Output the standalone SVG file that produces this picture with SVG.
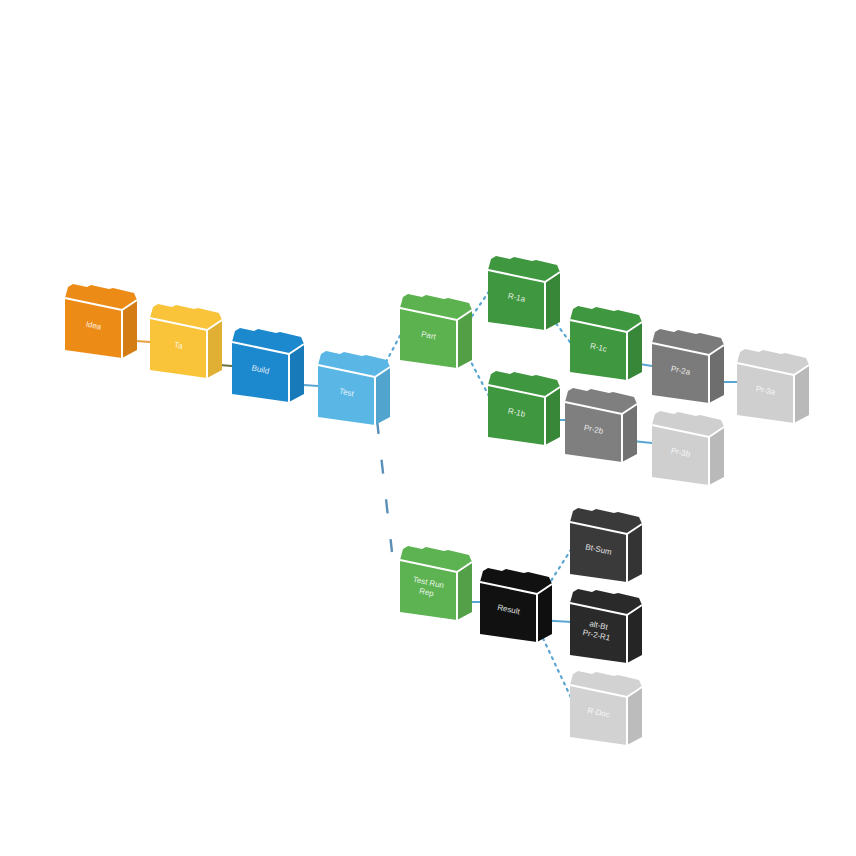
<svg xmlns="http://www.w3.org/2000/svg" xmlns:xlink="http://www.w3.org/1999/xlink" width="856" height="856" viewBox="0 0 856 856">
<defs>
<style>
.lbl{font-family:"Liberation Sans",Arial,sans-serif;font-size:8px;fill:#ffffff;text-anchor:middle;opacity:0.85}
.con{fill:none;stroke:#5aa6d2;stroke-width:2.2;stroke-dasharray:2 5;stroke-linecap:round}
.conS{fill:none;stroke:#5aa6d2;stroke-width:2}
.edge{fill:none;stroke:#ffffff;stroke-width:2;stroke-linejoin:round}
</style>
<g id="box">
<path d="M0,0 L3,-11 L8,-14 L22,-11 L26,-13 L44,-9 L48,-10 L69,-5 L72,2 L57,12 Z" fill="currentColor"/>
<path d="M0,0 L57,12 L57,60 L0,52 Z" fill="currentColor"/>
<path d="M57,12 L72,2 L72,52 L57,60 Z" fill="currentColor"/>
<path d="M57,12 L72,2 L72,52 L57,60 Z" fill="#000000" opacity="0.1"/>
<polyline class="edge" points="0,0 57,12 72,2"/>
<line class="edge" x1="57" y1="12" x2="57" y2="60"/>
</g>
</defs>
<rect width="856" height="856" fill="#ffffff"/>
<g id="connectors">
<line class="conS" x1="122" y1="340" x2="150" y2="342" style="stroke:#e8a040"/>
<line class="conS" x1="207" y1="364" x2="232" y2="366" style="stroke:#6a7040"/>
<line class="conS" x1="289" y1="384" x2="318" y2="386"/>
<path class="con" d="M386,362 L402,332"/>
<path d="M377,420 L392,552" fill="none" stroke="#5a8fb8" stroke-width="2.4" stroke-dasharray="14 26"/>
<path class="con" d="M468,322 L490,290"/>
<path class="con" d="M462,345 L490,398"/>
<path class="con" d="M552,318 L570,342"/>
<line class="conS" x1="627" y1="362" x2="652" y2="366"/>
<line class="conS" x1="709" y1="382" x2="737" y2="382"/>
<line class="conS" x1="545" y1="420" x2="566" y2="420"/>
<line class="conS" x1="622" y1="440" x2="652" y2="443"/>
<line class="conS" x1="457" y1="602" x2="480" y2="602"/>
<path class="con" d="M540,598 L572,548"/>
<line class="conS" x1="537" y1="620" x2="572" y2="622"/>
<path class="con" d="M540,632 L574,704"/>
</g>
<g id="n1"><use xlink:href="#box" x="65" y="298" style="color:#ec8c17"/><text class="lbl" transform="translate(93,328) rotate(12)">Idea</text></g>
<g id="n2"><use xlink:href="#box" x="150" y="318" style="color:#f9c43a"/><text class="lbl" transform="translate(178,348) rotate(12)">Ta</text></g>
<g id="n3"><use xlink:href="#box" x="232" y="342" style="color:#1c88ce"/><text class="lbl" transform="translate(260,372) rotate(12)">Build</text></g>
<g id="n4"><use xlink:href="#box" x="318" y="365" style="color:#5ab7e5"/><text class="lbl" transform="translate(346,395) rotate(12)">Test</text></g>
<g id="n5"><use xlink:href="#box" x="400" y="308" style="color:#5cb24f"/><text class="lbl" transform="translate(428,338) rotate(12)">Part</text></g>
<g id="n6"><use xlink:href="#box" x="488" y="270" style="color:#3f973f"/><text class="lbl" transform="translate(516,300) rotate(12)">R-1a</text></g>
<g id="n7"><use xlink:href="#box" x="488" y="385" style="color:#3f973f"/><text class="lbl" transform="translate(516,415) rotate(12)">R-1b</text></g>
<g id="n8"><use xlink:href="#box" x="570" y="320" style="color:#3f973f"/><text class="lbl" transform="translate(598,350) rotate(12)">R-1c</text></g>
<g id="n9"><use xlink:href="#box" x="652" y="343" style="color:#7b7b7b"/><text class="lbl" transform="translate(680,373) rotate(12)">Pr-2a</text></g>
<g id="n10"><use xlink:href="#box" x="737" y="363" style="color:#cfcfcf"/><text class="lbl" transform="translate(765,393) rotate(12)">Pr-3a</text></g>
<g id="n11"><use xlink:href="#box" x="565" y="402" style="color:#7f7f7f"/><text class="lbl" transform="translate(593,432) rotate(12)">Pr-2b</text></g>
<g id="n12"><use xlink:href="#box" x="652" y="425" style="color:#cfcfcf"/><text class="lbl" transform="translate(680,455) rotate(12)">Pr-3b</text></g>
<g id="n13"><use xlink:href="#box" x="400" y="560" style="color:#5db352"/><text class="lbl" transform="translate(428,585) rotate(12)"><tspan x="0" dy="0">Test Run</tspan><tspan x="0" dy="10">Rep</tspan></text></g>
<g id="n14"><use xlink:href="#box" x="480" y="582" style="color:#111111"/><text class="lbl" transform="translate(508,612) rotate(12)">Result</text></g>
<g id="n15"><use xlink:href="#box" x="570" y="522" style="color:#3a3a3a"/><text class="lbl" transform="translate(598,552) rotate(12)">Bt-Sum</text></g>
<g id="n16"><use xlink:href="#box" x="570" y="603" style="color:#2a2a2a"/><text class="lbl" transform="translate(598,628) rotate(12)"><tspan x="0" dy="0">alt-Bt</tspan><tspan x="0" dy="10">Pr-2-R1</tspan></text></g>
<g id="n17"><use xlink:href="#box" x="570" y="685" style="color:#d2d2d2"/><text class="lbl" transform="translate(598,715) rotate(12)">R-Doc</text></g>
</svg>
